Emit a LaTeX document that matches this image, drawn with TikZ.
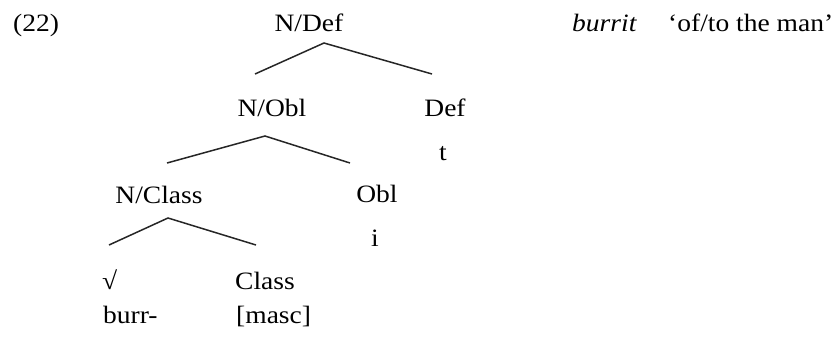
\documentclass[tikz,border=0pt]{standalone}
\usepackage{fontspec}
\setmainfont{Liberation Serif}[FakeStretch=1.1]
\begin{document}
\begin{tikzpicture}[x=1pt,y=-1pt,
  lbl/.style={inner sep=0pt,anchor=base,font=\fontsize{25}{30}\selectfont},
  lblw/.style={lbl,anchor=base west},
  branch/.style={line width=1.5pt,draw=black!85}]
\useasboundingbox (0,0) rectangle (837,341);
% header
\node[lblw] (ex) at (13,31) {(22)};
\node[lblw] (word) at (572,31) {\itshape burrit};
\node[lblw] (gloss) at (668,31) {`of/to the man'};
% tree nodes
\node[lbl] (ND) at (309,31) {N/Def};
\node[lbl] (NO) at (272,116) {N/Obl};
\node[lbl] (Def) at (445,116) {Def};
\node[lbl] (t) at (443,160) {t};
\node[lbl] (NC) at (159,203) {N/Class};
\node[lbl] (Obl) at (377,202) {Obl};
\node[lbl] (i) at (375,246) {i};
\node[lblw] (root) at (102,289) {√};
\node[lblw] (Cl) at (235,289) {Class};
\node[lblw] (burr) at (103,323) {burr-};
\node[lblw] (masc) at (236,323) {[masc]};
% branch points
\coordinate (ND-b) at (324,43);
\coordinate (NO-t) at (255,74);
\coordinate (Def-t) at (432,74);
\coordinate (NO-b) at (265,136);
\coordinate (NC-t) at (167,163);
\coordinate (Obl-t) at (350,163);
\coordinate (NC-b) at (168,218);
\coordinate (root-t) at (109,245);
\coordinate (Cl-t) at (256,245);
\draw[branch] (NO-t) -- (ND-b) -- (Def-t);
\draw[branch] (NC-t) -- (NO-b) -- (Obl-t);
\draw[branch] (root-t) -- (NC-b) -- (Cl-t);
\end{tikzpicture}
\end{document}
